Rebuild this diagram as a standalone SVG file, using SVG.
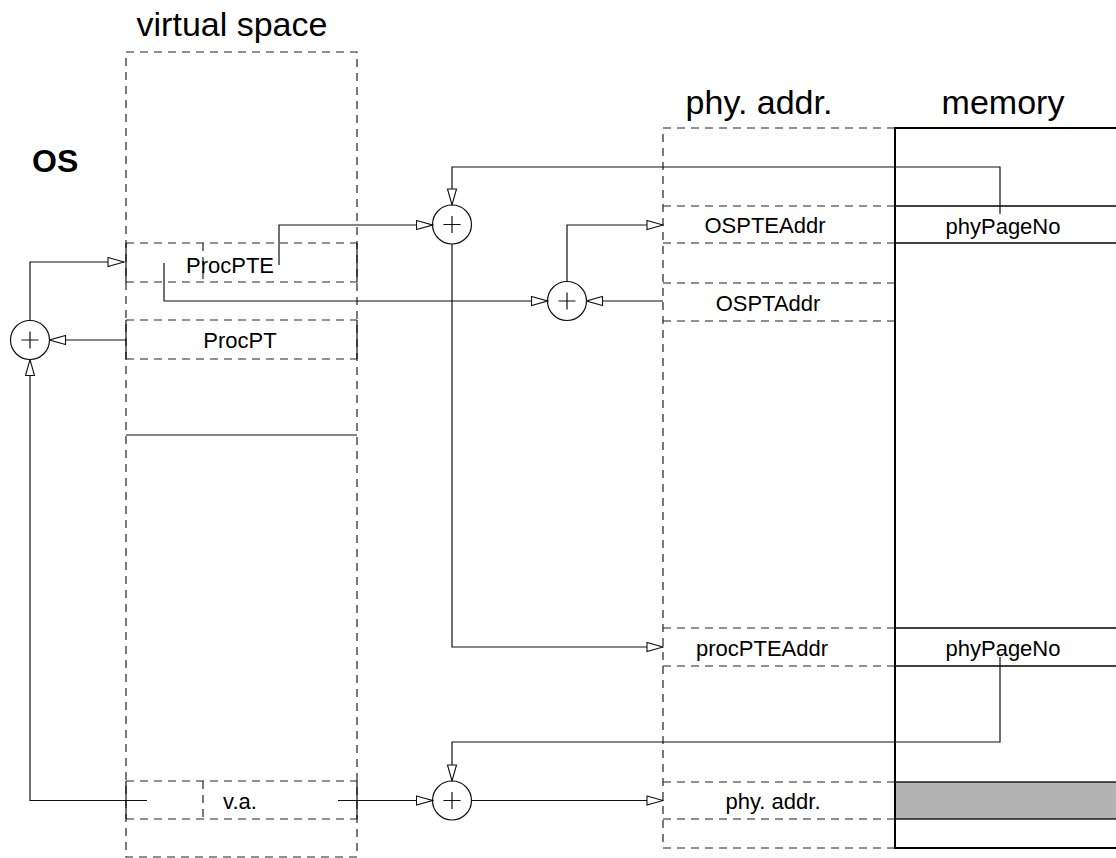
<svg xmlns="http://www.w3.org/2000/svg" width="1116" height="858" viewBox="0 0 1116 858">
<style>
.t{font-family:"Liberation Sans",Arial,sans-serif;fill:#000}
.title{font-size:34px}
.lbl{font-size:22px;text-anchor:middle}
.dash{fill:none;stroke:#222;stroke-width:1.2;stroke-dasharray:8 6}
.solid{fill:none;stroke:#111;stroke-width:1.2}
.mem{fill:none;stroke:#000;stroke-width:2}
.row{fill:none;stroke:#000;stroke-width:1.3}
.conn{fill:none;stroke:#111;stroke-width:1.2}
.circ{fill:#fff;stroke:#111;stroke-width:1.2}
</style>
<defs>
<marker id="arr" markerUnits="userSpaceOnUse" markerWidth="18" markerHeight="12" refX="17" refY="5.5" orient="auto" viewBox="0 0 18 12">
<path d="M1,1 L17,5.5 L1,10 Z" fill="#fff" stroke="#111" stroke-width="1.1"/>
</marker>
</defs>
<rect width="1116" height="858" fill="#fff"/>

<g id="titles">
<text class="t title" x="232" y="36" text-anchor="middle">virtual space</text>
<text class="t title" x="759" y="114" text-anchor="middle">phy. addr.</text>
<text class="t title" x="1003" y="114" text-anchor="middle">memory</text>
<text class="t" x="32" y="172" font-size="32" font-weight="bold">OS</text>
</g>

<g id="virtual-space">
<rect class="dash" x="126" y="52" width="231" height="805"/>
<line class="solid" x1="126" y1="435" x2="357" y2="435"/>
</g>

<g id="procPTE">
<line class="dash" x1="126" y1="243" x2="357" y2="243"/>
<line class="dash" x1="126" y1="282" x2="357" y2="282"/>
<line class="dash" x1="203" y1="243" x2="203" y2="282"/>
<line class="solid" x1="126" y1="243" x2="126" y2="282"/>
<line class="solid" x1="357" y1="243" x2="357" y2="282"/>
<text class="t lbl" x="230" y="273">ProcPTE</text>
</g>

<g id="procPT">
<line class="dash" x1="126" y1="320" x2="357" y2="320"/>
<line class="dash" x1="126" y1="359" x2="357" y2="359"/>
<line class="solid" x1="126" y1="320" x2="126" y2="359"/>
<line class="solid" x1="357" y1="320" x2="357" y2="359"/>
<text class="t lbl" x="240" y="348">ProcPT</text>
</g>

<g id="va">
<line class="dash" x1="126" y1="781" x2="357" y2="781"/>
<line class="dash" x1="126" y1="819" x2="357" y2="819"/>
<line class="dash" x1="203" y1="781" x2="203" y2="819"/>
<line class="solid" x1="126" y1="781" x2="126" y2="819"/>
<line class="solid" x1="357" y1="781" x2="357" y2="819"/>
<text class="t lbl" x="240" y="809">v.a.</text>
</g>

<g id="phy-addr-space">
<path class="dash" d="M895,128 H663 V848 H895"/>
</g>

<g id="OSPTEAddr">
<line class="dash" x1="663" y1="206" x2="895" y2="206"/>
<line class="dash" x1="663" y1="243" x2="895" y2="243"/>
<text class="t lbl" x="765" y="233">OSPTEAddr</text>
</g>

<g id="OSPTAddr">
<line class="dash" x1="663" y1="283" x2="895" y2="283"/>
<line class="dash" x1="663" y1="321" x2="895" y2="321"/>
<text class="t lbl" x="768" y="311">OSPTAddr</text>
</g>

<g id="procPTEAddr">
<line class="dash" x1="663" y1="628" x2="895" y2="628"/>
<line class="dash" x1="663" y1="666" x2="895" y2="666"/>
<text class="t lbl" x="762" y="656">procPTEAddr</text>
</g>

<g id="phyaddr">
<line class="dash" x1="663" y1="782" x2="895" y2="782"/>
<line class="dash" x1="663" y1="819" x2="895" y2="819"/>
<text class="t lbl" x="773" y="809">phy. addr.</text>
</g>

<g id="memory">
<rect x="895" y="782" width="225" height="37" fill="#b3b3b3" stroke="#000" stroke-width="1.3"/>
<line class="row" x1="895" y1="206" x2="1116" y2="206"/>
<line class="row" x1="895" y1="243" x2="1116" y2="243"/>
<line class="row" x1="895" y1="628" x2="1116" y2="628"/>
<line class="row" x1="895" y1="666" x2="1116" y2="666"/>
<path class="mem" d="M1117,128 H895 V848 H1117"/>
<text class="t lbl" x="1003" y="234">phyPageNo</text>
<text class="t lbl" x="1003" y="656">phyPageNo</text>
</g>

<g id="adders">
<g id="add-left"><circle class="circ" cx="30" cy="340" r="19.5"/><path class="solid" d="M21.5,340 H38.5 M30,331.5 V348.5"/></g>
<g id="add-top"><circle class="circ" cx="452" cy="224.5" r="19.5"/><path class="solid" d="M443.5,224.5 H460.5 M452,216 V233"/></g>
<g id="add-mid"><circle class="circ" cx="567" cy="301" r="19.5"/><path class="solid" d="M558.5,301 H575.5 M567,292.5 V309.5"/></g>
<g id="add-bottom"><circle class="circ" cx="452" cy="800.5" r="19.5"/><path class="solid" d="M443.5,800.5 H460.5 M452,792 V809"/></g>
</g>

<g id="connectors">
<path class="conn" d="M279,265 V225 H432.5" marker-end="url(#arr)"/>
<path class="conn" d="M164,263 V301 H547.5" marker-end="url(#arr)"/>
<path class="conn" d="M663,301 H586.5" marker-end="url(#arr)"/>
<path class="conn" d="M567,281.5 V225 H663" marker-end="url(#arr)"/>
<path class="conn" d="M1000,214 V167 H452 V205" marker-end="url(#arr)"/>
<path class="conn" d="M452,244 V647 H663" marker-end="url(#arr)"/>
<path class="conn" d="M126,340 H49.5" marker-end="url(#arr)"/>
<path class="conn" d="M30,320.5 V262 H124" marker-end="url(#arr)"/>
<path class="conn" d="M147,800.5 H30 V359.5" marker-end="url(#arr)"/>
<path class="conn" d="M338,800.5 H432.5" marker-end="url(#arr)"/>
<path class="conn" d="M1000,657 V742 H452 V781" marker-end="url(#arr)"/>
<path class="conn" d="M471.5,800.5 H663" marker-end="url(#arr)"/>
</g>
</svg>
